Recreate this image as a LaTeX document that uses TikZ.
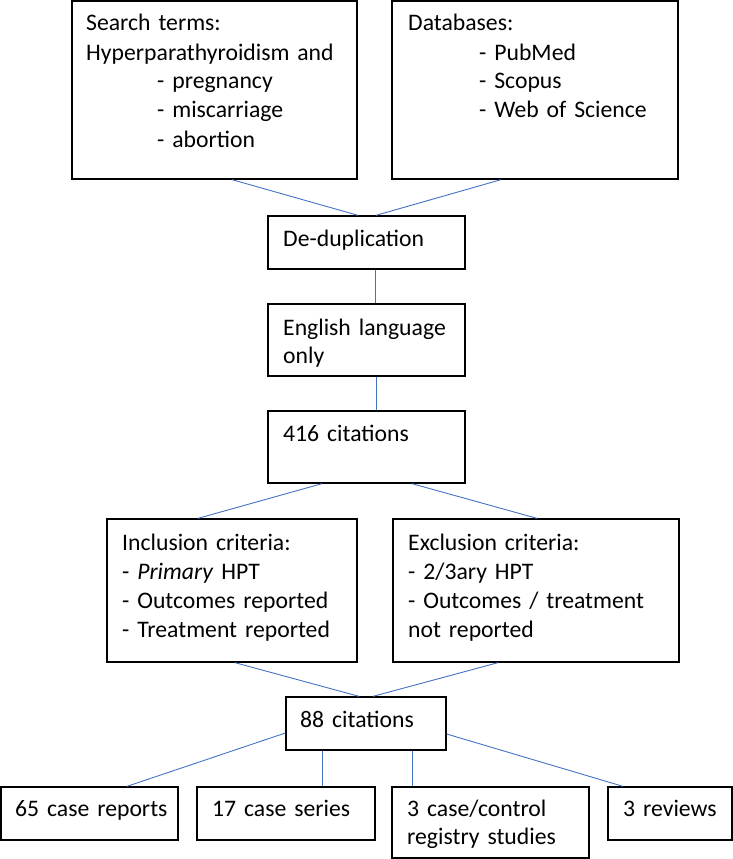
\documentclass[tikz,border=0pt]{standalone}
\usepackage{fontspec}
\setmainfont{Carlito}
\usetikzlibrary{calc}
\definecolor{conn}{HTML}{4472C4}
\tikzset{
  box/.style={draw=black, line width=1.3pt, inner sep=0pt, rectangle},
  txt/.style={anchor=base west, inner sep=0pt, align=left, text width=320pt,
              font=\fontsize{23.7}{29}\selectfont},
  link/.style={draw=conn, line width=0.9pt}
}
\begin{document}
\begin{tikzpicture}[x=1pt,y=-1pt]
\useasboundingbox (0,0) rectangle (733,859);
% boxes
\node[box, minimum width=285pt, minimum height=178pt] (s) at (214.5,90) {};
\node[box, minimum width=286pt, minimum height=178pt] (d) at (535,90) {};
\node[box, minimum width=197pt, minimum height=53pt] (dd) at (366.5,242.5) {};
\node[box, minimum width=197pt, minimum height=72pt] (en) at (366.5,340) {};
\node[box, minimum width=197pt, minimum height=72pt] (c416) at (366.5,447) {};
\node[box, minimum width=250pt, minimum height=143pt] (inc) at (232,590.5) {};
\node[box, minimum width=286pt, minimum height=143pt] (exc) at (536,590.5) {};
\node[box, minimum width=160pt, minimum height=53pt] (c88) at (366,723.5) {};
\node[box, minimum width=177pt, minimum height=53pt] (r65) at (89.5,813.5) {};
\node[box, minimum width=178pt, minimum height=53pt] (r17) at (286,813.5) {};
\node[box, minimum width=197pt, minimum height=71pt] (rcc) at (490.5,822.5) {};
\node[box, minimum width=124pt, minimum height=53pt] (rrev) at (670,813.5) {};
% texts
\node[txt] (ts) at (86,31) {Search terms:\\Hyperparathyroidism and\\\hspace*{71pt}- pregnancy\\\hspace*{71pt}- miscarriage\\\hspace*{71pt}- abortion};
\node[txt] (td) at (408,31) {Databases:\\\hspace*{71pt}- PubMed\\\hspace*{71pt}- Scopus\\\hspace*{71pt}- Web of Science};
\node[txt] (tdd) at (283,246) {De-duplication};
\node[txt] (ten) at (283,335) {English language\\[-1pt]only};
\node[txt] (t416) at (283,441) {416 citations};
\node[txt] (tinc) at (122,550) {Inclusion criteria:\\- \textit{Primary} HPT\\- Outcomes reported\\- Treatment reported};
\node[txt] (texc) at (408,550) {Exclusion criteria:\\- 2/3ary HPT\\- Outcomes / treatment\\not reported};
\node[txt] (t88) at (300,727) {88 citations};
\node[txt] (t65) at (15,816) {65 case reports};
\node[txt] (t17) at (212,816) {17 case series};
\node[txt] (tcc) at (407,816) {3 case/control\\[-1pt]registry studies};
\node[txt] (trev) at (623,816) {3 reviews};
% connectors
\draw[link] ($(s.south)+(17.5,0)$) -- ($(dd.north)+(-8.5,0)$);
\draw[link] ($(d.south)+(-34,0)$) -- ($(dd.north)+(9.5,0)$);
\draw[link] ($(dd.south)+(8.5,0)$) -- ($(en.north)+(8.5,0)$);
\draw[link] ($(en.south)+(9.5,0)$) -- ($(c416.north)+(9.5,0)$);
\draw[link] ($(c416.south)+(-44.5,0)$) -- ($(inc.north)+(-34,0)$);
\draw[link] ($(c416.south)+(45.5,0)$) -- ($(exc.north)+(1,0)$);
\draw[link] ($(inc.south)+(3,0)$) -- ($(c88.north)+(-7,0)$);
\draw[link] ($(exc.south)+(-38,0)$) -- ($(c88.north)+(7,0)$);
\draw[link] ($(c88.west)+(0,9.5)$) -- ($(r65.north)+(37.5,0)$);
\draw[link] ($(c88.south)+(-44,0)$) -- ($(r17.north)+(36,0)$);
\draw[link] ($(c88.south)+(46,0)$) -- ($(rcc.north)+(-78.5,0)$);
\draw[link] ($(c88.east)+(0,10.5)$) -- ($(rrev.north)+(-47,0)$);
\end{tikzpicture}
\end{document}
